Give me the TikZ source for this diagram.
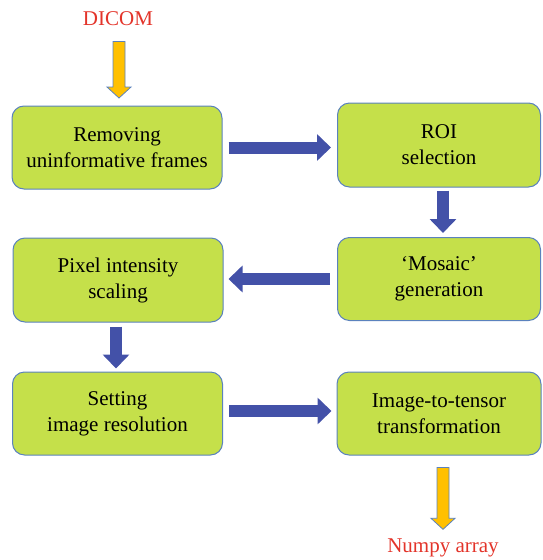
\documentclass[tikz,border=0pt]{standalone}
\usepackage{fontspec}
\setmainfont{Liberation Serif}
\usetikzlibrary{arrows.meta,calc}
\definecolor{lime}{HTML}{C5E04A}
\definecolor{boxborder}{HTML}{5B82BD}
\definecolor{arrblue}{HTML}{4351A8}
\definecolor{arrorange}{HTML}{FFC000}
\definecolor{txtred}{HTML}{E3342A}
\tikzset{
  stepbox/.style={rectangle, rounded corners=12pt, fill=lime, draw=boxborder, line width=1pt,
    align=center, font=\fontsize{21}{26}\selectfont, text=black},
  endlabel/.style={font=\fontsize{21}{26}\selectfont, text=txtred},
  bluearr/.style={draw=arrblue, line width=12pt, -{Triangle[width=26pt,length=14pt]}},
  orangearr/.style={fill=arrorange, draw=boxborder, line width=0.8pt, line join=miter}
}
\newcommand\orangearrow[2]{%
  \draw[orangearr] ($(#1)+(-6,0)$) -- ($(#2)+(-6,-11)$) -- ($(#2)+(-12,-11)$) -- (#2)
    -- ($(#2)+(12,-11)$) -- ($(#2)+(6,-11)$) -- ($(#1)+(6,0)$) -- cycle;}
\begin{document}
\begin{tikzpicture}[x=1pt,y=-1pt]
\useasboundingbox (0,0) rectangle (542,560);
\node[stepbox, minimum width=210pt, minimum height=83pt] (b1) at (117,147.5) {Removing\\uninformative frames};
\node[stepbox, minimum width=203pt, minimum height=84pt] (b2) at (439,145) {ROI\\selection};
\node[stepbox, minimum width=203pt, minimum height=83pt] (b3) at (439,279) {`Mosaic'\\generation};
\node[stepbox, minimum width=210pt, minimum height=84pt] (b4) at (118,280) {Pixel intensity\\scaling};
\node[stepbox, minimum width=210pt, minimum height=83pt] (b5) at (117.5,413.5) {Setting\\image resolution};
\node[stepbox, minimum width=204pt, minimum height=83pt] (b6) at (439,413.5) {Image-to-tensor\\transformation};
\node[endlabel] (dicom) at (118,19) {DICOM};
\node[endlabel] (numpy) at (443,548) {Numpy array};
% blue arrows
\draw[bluearr, shorten <=6pt, shorten >=6pt] (b1.east) -- (b1.east -| b2.west);
\draw[bluearr, shorten <=3pt, shorten >=4pt] ($(b2.south)+(4,0)$) -- ($(b3.north)+(4,0)$);
\draw[bluearr, shorten <=7pt, shorten >=5pt] (b3.west) -- (b3.west -| b4.east);
\draw[bluearr, shorten <=4pt, shorten >=3pt] ($(b4.south)+(-2,0)$) -- ($(b5.north)+(-1.5,0)$);
\draw[bluearr, shorten <=6pt, shorten >=5pt] ($(b5.east)+(0,-2.5)$) -- ($(b5.east -| b6.west)+(0,-2.5)$);
% orange arrows
\coordinate (d1) at ($(dicom.south)+(1,12)$);
\coordinate (d2) at ($(b1.north)+(2,-7.5)$);
\orangearrow{d1}{d2}
\coordinate (n1) at ($(b6.south)+(4,12)$);
\coordinate (n2) at ($(numpy.north)+(0,-6)$);
\orangearrow{n1}{n2}
\end{tikzpicture}
\end{document}
